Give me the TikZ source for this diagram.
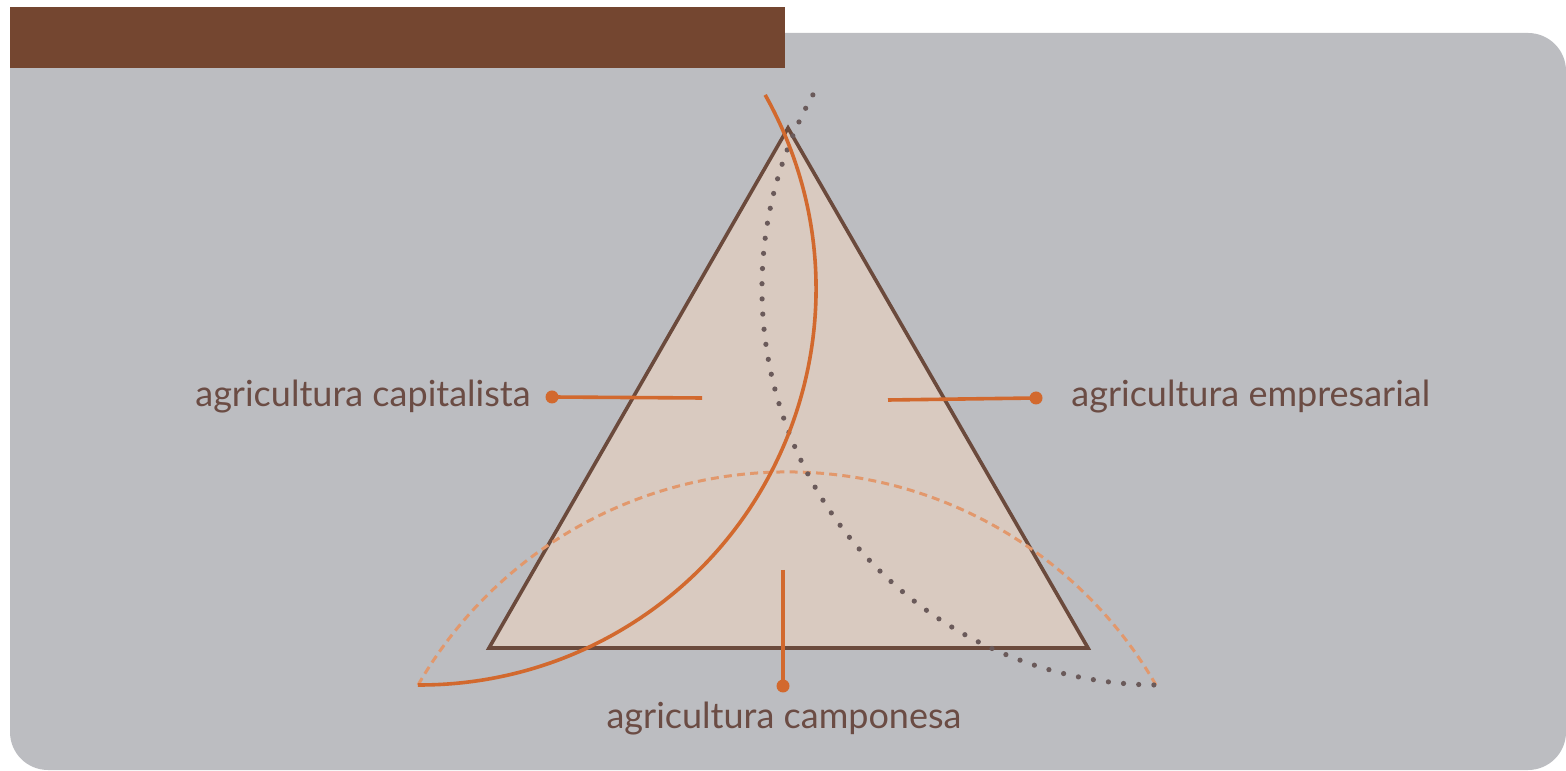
\documentclass[tikz,border=0pt]{standalone}
\usepackage{fontspec}
\setmainfont{Lato}
\definecolor{panelgray}{HTML}{BCBDC1}
\definecolor{barbrown}{HTML}{744630}
\definecolor{trifill}{HTML}{D9CAC0}
\definecolor{tristroke}{HTML}{6B4A3C}
\definecolor{orangeline}{HTML}{D2692E}
\definecolor{dashorange}{HTML}{E2986C}
\definecolor{dotgray}{HTML}{6A5A5A}
\definecolor{textbrown}{HTML}{6B4C44}
\tikzset{
  labeltext/.style={text=textbrown, font=\fontsize{18}{21}\selectfont, inner sep=0pt},
  leader/.style={draw=orangeline, line width=1.8pt},
  leaderdot/.style={circle, fill=orangeline, inner sep=0pt, minimum size=6.5pt},
  solidarc/.style={draw=orangeline, line width=1.8pt},
  dottedarc/.style={draw=dotgray, line width=2.6pt, line cap=round, dash pattern=on 0pt off 7.6pt},
  dashedarc/.style={draw=dashorange, line width=1.5pt, dash pattern=on 4pt off 2.6pt},
}
\begin{document}
\begin{tikzpicture}[x=0.5pt,y=0.5pt]
\useasboundingbox (0,0) rectangle (1566,770);
% panel
\fill[panelgray, rounded corners=19pt] (10,0) rectangle (1566,737);
% title bar
\fill[barbrown] (10,702) rectangle (785,763);
% triangle
\coordinate (apex) at (788,642);
\coordinate (bl) at (489,122);
\coordinate (br) at (1088,122);
\filldraw[fill=trifill, draw=tristroke, line width=1.8pt, line join=miter] (apex) -- (bl) -- (br) -- cycle;
% arcs
\coordinate (c1) at (420,481);
\coordinate (c2) at (1158,481);
\coordinate (c3) at (787,-128);
\draw[dashedarc] (c3) ++(150:426) arc[start angle=150, end angle=30, radius=426];
\draw[dottedarc] (c2) ++(150.65:396) arc[start angle=150.65, end angle=269.6, radius=396];
\draw[solidarc] (c1) ++(29.35:396) arc[start angle=29.35, end angle=-90.3, radius=396];
% leaders
\node[leaderdot] (dl) at (552,373) {};
\coordinate (el) at (702,372);
\draw[leader] (dl.center) -- (el);
\node[leaderdot] (dr) at (1036,372) {};
\coordinate (er) at (888,370);
\draw[leader] (er) -- (dr.center);
\node[leaderdot] (db) at (783,84) {};
\coordinate (eb) at (783,200);
\draw[leader] (eb) -- (db.center);
% labels
\node[labeltext, anchor=mid east] (lcap) at (531,369) {agricultura capitalista};
\node[labeltext, anchor=mid west] (lemp) at (1071,369) {agricultura empresarial};
\node[labeltext, anchor=mid] (lcam) at (784,47) {agricultura camponesa};
\end{tikzpicture}
\end{document}
